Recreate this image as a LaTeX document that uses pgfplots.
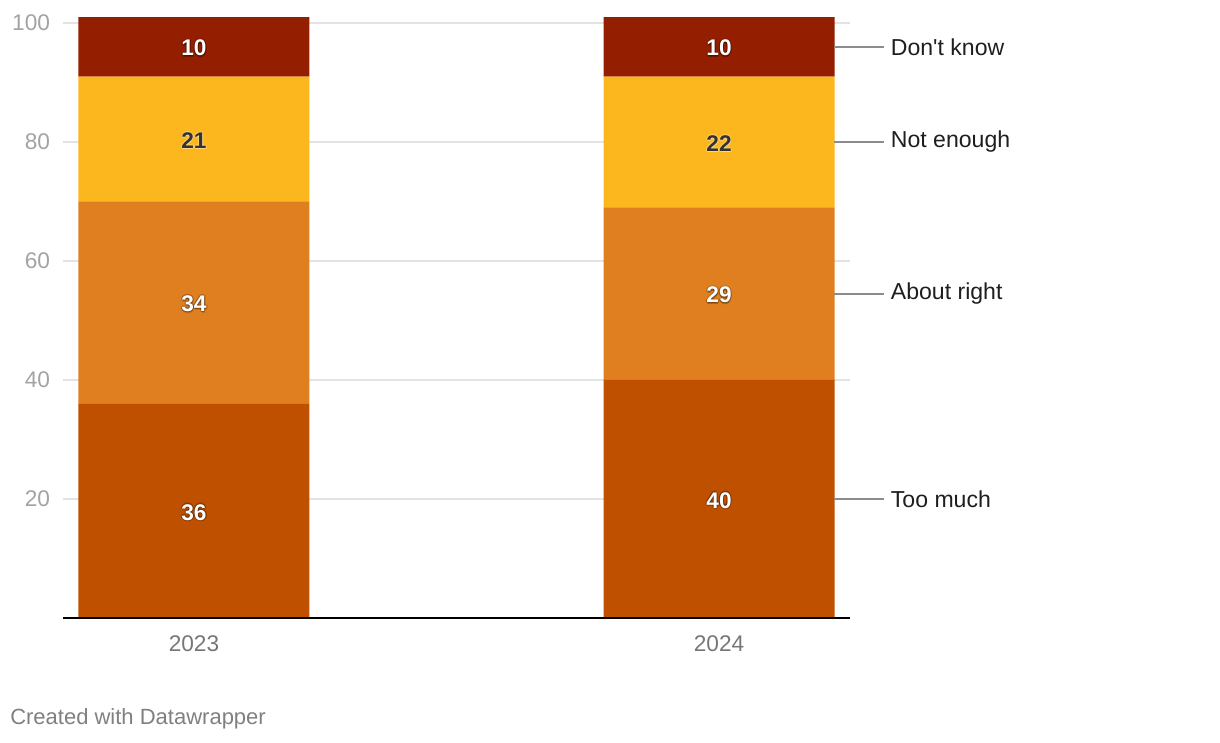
\documentclass[border=0pt]{standalone}
\usepackage{pgfplots}
\pgfplotsset{compat=1.18}
\usepackage{fontspec}
\setmainfont{Liberation Sans}
\definecolor{cDK}{HTML}{941E00}
\definecolor{cNE}{HTML}{FDB71E}
\definecolor{cAR}{HTML}{E07F20}
\definecolor{cTM}{HTML}{BF5000}
\definecolor{gridc}{HTML}{E3E3E3}
\definecolor{ytc}{HTML}{A3A3A3}
\definecolor{xtc}{HTML}{777777}
\definecolor{lab}{HTML}{1E1E1E}
\definecolor{darklab}{HTML}{333333}
\definecolor{linec}{HTML}{8C8C8C}
\newcommand{\fs}{\fontsize{17}{20}\selectfont}
\newcommand{\barlab}[4]{%
  \foreach \dx/\dy in {0.9/0,-0.9/0,0/0.9,0/-0.9,0.6/-0.6,0.6/0.6,-0.6/0.6,-0.6/-0.6,0.4/-1.2} {
    \node[font=\fs\bfseries, text=#4, opacity=0.13, inner sep=0pt] at ([xshift=\dx pt,yshift=\dy pt-1pt]#1) {#2};
  }
  \node[font=\fs\bfseries, text=#3, inner sep=0pt] at ([yshift=-1pt]#1) {#2};
}
\begin{document}
\begin{tikzpicture}[x=1pt,y=1pt]
\path[use as bounding box] (0,0) rectangle (915,556.5);
\begin{axis}[
  at={(47.25pt,93pt)}, anchor=south west,
  scale only axis, width=590.25pt, height=450.71pt,
  xmin=-0.2495, xmax=1.2495, ymin=0, ymax=101,
  ybar stacked, bar width=173.25pt,
  axis line style={draw=none},
  tick style={draw=none},
  xtick={0,1}, xticklabels={2023,2024},
  ytick={20,40,60,80,100},
  ymajorgrids, major grid style={draw=gridc, line width=1pt},
  /pgf/number format/assume math mode=true,
  tick label style={font=\fs},
  yticklabel style={text=ytc, anchor=east, inner sep=0pt, xshift=-9.5pt},
  xticklabel style={text=xtc, anchor=north, inner sep=0pt, yshift=-13pt},
  clip=false,
]
\addplot[fill=cTM, draw=none] coordinates {(0,36) (1,40)};
\addplot[fill=cAR, draw=none] coordinates {(0,34) (1,29)};
\addplot[fill=cNE, draw=none] coordinates {(0,21) (1,22)};
\addplot[fill=cDK, draw=none] coordinates {(0,10) (1,10)};
\coordinate (b0) at (axis cs:-0.2495,0);
\coordinate (b1) at (axis cs:1.2495,0);
\coordinate (a1) at (axis cs:0,18);
\coordinate (a2) at (axis cs:0,53);
\coordinate (a3) at (axis cs:0,80.5);
\coordinate (a4) at (axis cs:0,96);
\coordinate (c1) at (axis cs:1,20);
\coordinate (c2) at (axis cs:1,54.5);
\coordinate (c3) at (axis cs:1,80);
\coordinate (c4) at (axis cs:1,96);
\coordinate (s1) at (axis cs:1.219,20);
\coordinate (s2) at (axis cs:1.219,54.5);
\coordinate (s3) at (axis cs:1.219,80);
\coordinate (s4) at (axis cs:1.219,96);
\end{axis}
\draw[black, line width=1.2pt] (b0) -- (b1);
\barlab{a1}{36}{white}{black}
\barlab{a2}{34}{white}{black}
\barlab{a3}{21}{darklab}{white}
\barlab{a4}{10}{white}{black}
\barlab{c1}{40}{white}{black}
\barlab{c2}{29}{white}{black}
\barlab{c3}{22}{darklab}{white}
\barlab{c4}{10}{white}{black}
\foreach \s/\t in {s4/{Don\textquotesingle t know}, s3/{Not enough}, s2/{About right}, s1/{Too much}} {
  \draw[linec, line width=1.3pt] (\s) -- ++(37.5pt,0);
  \node[anchor=west, inner sep=0pt, text=lab, font=\fontsize{17.3}{20}\selectfont] at ([xshift=42.5pt]\s) {\t};
}
\node[anchor=base west, inner sep=0pt, text=gray, font=\fontsize{16.5}{19}\selectfont] at (7.5pt,13pt) {Created with Datawrapper};
\end{tikzpicture}
\end{document}
